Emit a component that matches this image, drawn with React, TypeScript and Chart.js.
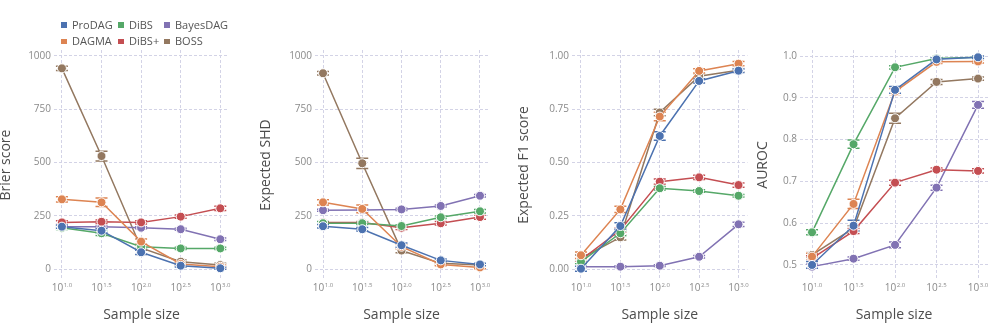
import React, { useEffect, useRef } from "react";
import { Chart, registerables } from "chart.js";

Chart.register(...registerables);
Chart.defaults.font.family = "'Open Sans', sans-serif";

// ---------- data ----------
const xExps = [1.0, 1.5, 2.0, 2.5, 3.0];
const xTickSup = ["1.0", "1.5", "2.0", "2.5", "3.0"];
const methods = ["ProDAG", "DAGMA", "DiBS", "DiBS+", "BayesDAG", "BOSS"];
const colors = ["#4c72b0", "#dd8452", "#55a868", "#c44e52", "#8172b3", "#937860"];

// Brier score
const brierProDAG = [200, 181, 80, 17, 5];
const brierDAGMA = [328, 314, 130, 25, 12];
const brierDiBS = [195, 169, 106, 98, 98];
const brierDiBSp = [220, 223, 220, 247, 286];
const brierBayesDAG = [200, 200, 195, 188, 141];
const brierBOSS = [942, 531, 100, 36, 20];
const brierErrProDAG = [8, 10, 10, 6, 5];
const brierErrDAGMA = [12, 20, 12, 8, 8];
const brierErrDiBS = [8, 10, 8, 5, 5];
const brierErrDiBSp = [8, 8, 8, 8, 10];
const brierErrBayesDAG = [5, 5, 5, 5, 6];
const brierErrBOSS = [10, 23, 10, 8, 8];
const brierTicks = [0, 250, 500, 750, 1000];

// Expected SHD
const shdProDAG = [202, 188, 113, 42, 23];
const shdDAGMA = [314, 283, 106, 23, 9];
const shdDiBS = [216, 216, 203, 244, 272];
const shdDiBSp = [219, 219, 195, 216, 245];
const shdBayesDAG = [277, 278, 281, 297, 345];
const shdBOSS = [919, 497, 88, 28, 20];
const shdErrProDAG = [8, 8, 10, 6, 6];
const shdErrDAGMA = [12, 18, 10, 6, 6];
const shdErrDiBS = [8, 6, 6, 6, 8];
const shdErrDiBSp = [8, 6, 8, 8, 10];
const shdErrBayesDAG = [5, 5, 5, 5, 6];
const shdErrBOSS = [8, 24, 10, 8, 8];
const shdTicks = [0, 250, 500, 750, 1000];

// Expected F1
const f1ProDAG = [0.003, 0.203, 0.625, 0.883, 0.931];
const f1DAGMA = [0.066, 0.281, 0.716, 0.93, 0.964];
const f1DiBS = [0.036, 0.169, 0.38, 0.367, 0.345];
const f1DiBSp = [0.044, 0.184, 0.411, 0.431, 0.395];
const f1BayesDAG = [0.0125, 0.0125, 0.017, 0.059, 0.211];
const f1BOSS = [0.052, 0.15, 0.735, 0.905, 0.933];
const f1ErrProDAG = [0.012, 0.015, 0.02, 0.01, 0.008];
const f1ErrDAGMA = [0.015, 0.015, 0.02, 0.01, 0.01];
const f1ErrDiBS = [0.01, 0.012, 0.008, 0.006, 0.006];
const f1ErrDiBSp = [0.01, 0.01, 0.012, 0.01, 0.01];
const f1ErrBayesDAG = [0.004, 0.004, 0.004, 0.006, 0.01];
const f1ErrBOSS = [0.015, 0.012, 0.015, 0.01, 0.008];
const f1Ticks = [0, 0.25, 0.5, 0.75, 1.0];

// AUROC
const aucProDAG = [0.5, 0.594, 0.919, 0.992, 0.997];
const aucDAGMA = [0.52, 0.646, 0.915, 0.986, 0.987];
const aucDiBS = [0.578, 0.789, 0.973, 0.994, 0.997];
const aucDiBSp = [0.516, 0.581, 0.697, 0.728, 0.725];
const aucBayesDAG = [0.496, 0.515, 0.548, 0.685, 0.883];
const aucBOSS = [0.524, 0.588, 0.851, 0.938, 0.946];
const aucErrProDAG = [0.008, 0.013, 0.008, 0.004, 0.003];
const aucErrDAGMA = [0.008, 0.011, 0.007, 0.004, 0.004];
const aucErrDiBS = [0.006, 0.01, 0.004, 0.003, 0.003];
const aucErrDiBSp = [0.006, 0.006, 0.006, 0.004, 0.005];
const aucErrBayesDAG = [0.006, 0.004, 0.007, 0.006, 0.008];
const aucErrBOSS = [0.006, 0.006, 0.012, 0.006, 0.004];
const aucTicks = [0.5, 0.6, 0.7, 0.8, 0.9, 1.0];

// ---------- panel setup ----------
const H = 329;
const panels = [
  {
    title: "Brier score", series: [brierProDAG, brierDAGMA, brierDiBS, brierDiBSp, brierBayesDAG, brierBOSS],
    errors: [brierErrProDAG, brierErrDAGMA, brierErrDiBS, brierErrDiBSp, brierErrBayesDAG, brierErrBOSS],
    ticks: brierTicks, decimals: 0, ymin: -50, ymax: 1028,
    canvasLeft: 0, width: 245, chartLeft: 54, chartRight: 229, xmin: 0.9, xmax: 3.11,
  },
  {
    title: "Expected SHD", series: [shdProDAG, shdDAGMA, shdDiBS, shdDiBSp, shdBayesDAG, shdBOSS],
    errors: [shdErrProDAG, shdErrDAGMA, shdErrDiBS, shdErrDiBSp, shdErrBayesDAG, shdErrBOSS],
    ticks: shdTicks, decimals: 0, ymin: -50, ymax: 1028,
    canvasLeft: 260, width: 240, chartLeft: 315, chartRight: 488, xmin: 0.898, xmax: 3.102,
  },
  {
    title: "Expected F1 score", series: [f1ProDAG, f1DAGMA, f1DiBS, f1DiBSp, f1BayesDAG, f1BOSS],
    errors: [f1ErrProDAG, f1ErrDAGMA, f1ErrDiBS, f1ErrDiBSp, f1ErrBayesDAG, f1ErrBOSS],
    ticks: f1Ticks, decimals: 2, ymin: -0.05, ymax: 1.028,
    canvasLeft: 518, width: 235, chartLeft: 572, chartRight: 748, xmin: 0.886, xmax: 3.114,
  },
  {
    title: "AUROC", series: [aucProDAG, aucDAGMA, aucDiBS, aucDiBSp, aucBayesDAG, aucBOSS],
    errors: [aucErrProDAG, aucErrDAGMA, aucErrDiBS, aucErrDiBSp, aucErrBayesDAG, aucErrBOSS],
    ticks: aucTicks, decimals: 1, ymin: 0.464, ymax: 1.0144,
    canvasLeft: 757, width: 239, chartLeft: 800, chartRight: 988, xmin: 0.855, xmax: 3.12,
  },
];

const TICK_COLOR = "#8a8a8a";
const TITLE_COLOR = "#4d4d4d";
const GRID_COLOR = "#d3d3e6";

const errorBarPlugin = {
  id: "errbars",
  beforeDatasetsDraw(chart: any) {
    const ctx = chart.ctx;
    const ys = chart.scales.y;
    const n = chart.data.datasets.length;
    for (let di = n - 1; di >= 0; di--) {
      const ds: any = chart.data.datasets[di];
      const meta = chart.getDatasetMeta(di);
      meta.data.forEach((pt: any, j: number) => {
        const v = ds.data[j].y;
        const e = ds.errors[j];
        const y1 = ys.getPixelForValue(v + e);
        const y2 = ys.getPixelForValue(v - e);
        const x = pt.x;
        const hw = 6;
        ctx.save();
        ctx.lineCap = "butt";
        ctx.strokeStyle = "#ffffff";
        ctx.lineWidth = 3.5;
        ctx.beginPath();
        ctx.moveTo(x - hw, y1); ctx.lineTo(x + hw, y1);
        ctx.moveTo(x - hw, y2); ctx.lineTo(x + hw, y2);
        ctx.stroke();
        ctx.strokeStyle = ds.borderColor;
        ctx.lineWidth = 1.5;
        ctx.beginPath();
        ctx.moveTo(x, y1); ctx.lineTo(x, y2);
        ctx.moveTo(x - hw, y1); ctx.lineTo(x + hw, y1);
        ctx.moveTo(x - hw, y2); ctx.lineTo(x + hw, y2);
        ctx.stroke();
        ctx.restore();
      });
    }
  },
};

const xLabelPlugin = {
  id: "xlabels",
  afterDraw(chart: any) {
    const ctx = chart.ctx;
    const xs = chart.scales.x;
    ctx.save();
    ctx.fillStyle = TICK_COLOR;
    ctx.textBaseline = "alphabetic";
    ctx.textAlign = "left";
    xExps.forEach((v, i) => {
      const base = "10";
      const sup = xTickSup[i];
      ctx.font = "10px 'Open Sans'";
      const wb = ctx.measureText(base).width;
      ctx.font = "6px 'Open Sans'";
      const ws = ctx.measureText(sup).width;
      const x0 = xs.getPixelForValue(v) - (wb + ws + 0.5) / 2;
      ctx.font = "10px 'Open Sans'";
      ctx.fillText(base, x0, 291);
      ctx.font = "6px 'Open Sans'";
      ctx.fillText(sup, x0 + wb + 0.5, 287);
    });
    ctx.restore();
  },
};

function makeChart(canvas: HTMLCanvasElement, p: any) {
  const chartBottom = 280;
  return new Chart(canvas, {
    type: "line",
    data: {
      datasets: p.series.map((s: number[], i: number) => ({
        label: methods[i],
        data: xExps.map((x, j) => ({ x, y: s[j] })),
        errors: p.errors[i],
        borderColor: colors[i],
        backgroundColor: colors[i],
        pointBackgroundColor: colors[i],
        pointBorderColor: "#ffffff",
        pointBorderWidth: 1,
        pointRadius: 4.5,
        borderWidth: 1.5,
        tension: 0,
      })) as any,
    },
    options: {
      animation: false,
      responsive: false,
      devicePixelRatio: 1,
      layout: { padding: { left: 0, top: 50, right: p.canvasLeft + p.width - p.chartRight, bottom: 0 } },
      plugins: { legend: { display: false }, tooltip: { enabled: false } },
      scales: {
        x: {
          type: "linear",
          min: p.xmin,
          max: p.xmax,
          afterBuildTicks: (s: any) => { s.ticks = xExps.map((v) => ({ value: v })); },
          afterFit: (s: any) => { s.height = H - chartBottom; },
          ticks: { display: false },
          grid: { color: GRID_COLOR, drawTicks: false, lineWidth: 1 },
          border: { display: false, dash: [3, 2] },
          title: {
            display: true, text: "Sample size", color: TITLE_COLOR,
            font: { size: 14, lineHeight: 1.2 }, padding: { top: 0, bottom: 5.6 },
          },
        },
        y: {
          type: "linear",
          min: p.ymin,
          max: p.ymax,
          afterBuildTicks: (s: any) => { s.ticks = p.ticks.map((v: number) => ({ value: v })); },
          afterFit: (s: any) => { s.width = p.chartLeft - p.canvasLeft; },
          ticks: {
            color: TICK_COLOR, font: { size: 10 }, padding: 3,
            callback: (v: any) => Number(v).toFixed(p.decimals),
          },
          grid: { color: GRID_COLOR, drawTicks: false, lineWidth: 1 },
          border: { display: false, dash: [3, 2] },
          title: {
            display: true, text: p.title, color: TITLE_COLOR,
            font: { size: 14, lineHeight: 12 / 14 }, padding: 0,
          },
        },
      },
    } as any,
    plugins: [errorBarPlugin, xLabelPlugin],
  });
}

// legend layout: square left edges per column, row centres
const legendCols = [61, 118, 164];
const legendRows = [24.5, 41];

function Legend() {
  const items = methods.map((m, i) => {
    const col = Math.floor(i / 2);
    const row = i % 2;
    const x = legendCols[col];
    const y = legendRows[row];
    return (
      <div key={m}>
        <div style={{ position: "absolute", left: x, top: y - 2.5, width: 5.5, height: 5.5, background: colors[i] }} />
        <div style={{
          position: "absolute", left: x + 11, top: y - 8, height: 16, lineHeight: "16px",
          fontFamily: "'Open Sans', sans-serif", fontSize: 11, color: "#555555", whiteSpace: "nowrap",
        }}>{m}</div>
      </div>
    );
  });
  return <>{items}</>;
}

export default function App() {
  const refs = [useRef<HTMLCanvasElement>(null), useRef<HTMLCanvasElement>(null), useRef<HTMLCanvasElement>(null), useRef<HTMLCanvasElement>(null)];
  useEffect(() => {
    const charts = panels.map((p, i) => makeChart(refs[i].current as HTMLCanvasElement, p));
    return () => charts.forEach((c) => c.destroy());
  }, []);
  return (
    <div style={{ position: "fixed", left: 0, top: 0, width: 996, height: H, background: "#ffffff", overflow: "hidden" }}>
      {panels.map((p, i) => (
        <canvas key={i} ref={refs[i]} width={p.width} height={H}
          style={{ position: "absolute", left: p.canvasLeft, top: 0, width: p.width, height: H }} />
      ))}
      <Legend />
    </div>
  );
}
